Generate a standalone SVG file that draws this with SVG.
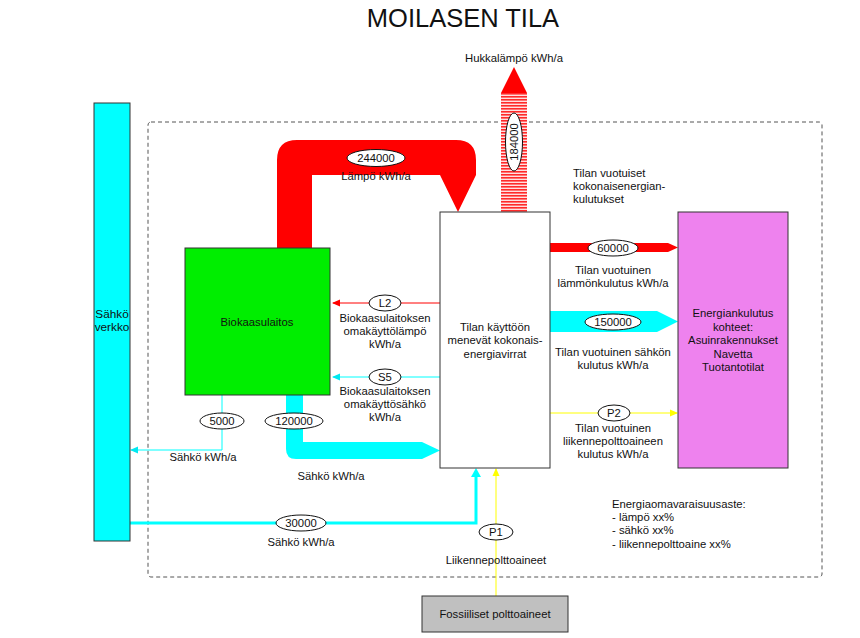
<svg xmlns="http://www.w3.org/2000/svg" width="860" height="638" viewBox="0 0 860 638">
<defs>
<style>
text{font-family:"Liberation Sans",Arial,sans-serif;font-size:11.3px;fill:#111}
.c{text-anchor:middle}
.box{stroke:#333;stroke-width:1}
.lab{fill:#fff;stroke:#111;stroke-width:1}
</style>
<pattern id="stripe" patternUnits="userSpaceOnUse" width="6" height="3">
<rect width="6" height="3" fill="#ffe0e0"/>
<rect width="6" height="1.6" fill="#ff2a2a"/>
</pattern>
<marker id="aR" markerWidth="8" markerHeight="8" refX="7" refY="4" orient="auto" markerUnits="userSpaceOnUse"><path d="M0,0.5 L8,4 L0,7.5 Z" fill="#ff0000"/></marker>
<marker id="aC" markerWidth="8" markerHeight="8" refX="7" refY="4" orient="auto" markerUnits="userSpaceOnUse"><path d="M0,0.5 L8,4 L0,7.5 Z" fill="#00e8f0"/></marker>
<marker id="aY" markerWidth="8" markerHeight="8" refX="7" refY="4" orient="auto" markerUnits="userSpaceOnUse"><path d="M0,0.5 L8,4 L0,7.5 Z" fill="#ffff00"/></marker>
</defs>
<rect width="860" height="638" fill="#fff"/>
<text class="c" x="463" y="27" style="font-size:25.5px">MOILASEN TILA</text>
<rect x="148" y="122" width="674" height="455" rx="3" fill="none" stroke="#555" stroke-width="1" stroke-dasharray="4 3"/>

<g id="connectors">
<path id="heat244000" d="M277,248 L277,160 Q277,140 297,140 L456,140 Q476,140 476,160 L476,175 L458,212 L440,175 L312,175 L312,248 Z" fill="#ff0000"/>
<rect x="501" y="93" width="26" height="119" fill="url(#stripe)"/>
<path d="M501,93 L514,67 L527,93 Z" fill="#ff0000"/>
<path d="M550,243 L668,243 L678,247.5 L668,252 L550,252 Z" fill="#ff0000"/>
<path d="M550,311 L657,311 L678,321.5 L657,332 L550,332 Z" fill="#00ffff"/>
<line x1="550" y1="413" x2="677" y2="413" stroke="#ffff00" stroke-width="1" marker-end="url(#aY)"/>
<line x1="440" y1="303" x2="333" y2="303" stroke="#ff0000" stroke-width="1" marker-end="url(#aR)"/>
<line x1="440" y1="377" x2="333" y2="377" stroke="#00ffff" stroke-width="1" marker-end="url(#aC)"/>
<polyline points="222,395 222,450 131,450" fill="none" stroke="#00ffff" stroke-width="1" marker-end="url(#aC)"/>
<path d="M286,395 L286,449 Q286,459 296,459 L422,459 L440,450.5 L422,442 L303,442 L303,395 Z" fill="#00ffff"/>
<polyline points="130,523 476,523 476,476" fill="none" stroke="#00ffff" stroke-width="3"/>
<path d="M471,477 L476,468 L481,477 Z" fill="#00ffff"/>
<line x1="496" y1="596" x2="496" y2="469" stroke="#ffff00" stroke-width="1" marker-end="url(#aY)"/>

<ellipse class="lab" cx="376" cy="158" rx="29" ry="8.5"/>
<text class="c" x="376" y="162">244000</text>
<ellipse class="lab" cx="514" cy="142" rx="8.5" ry="29"/>
<text class="c" transform="translate(518,142) rotate(-90)">184000</text>
<ellipse class="lab" cx="613" cy="248" rx="25" ry="8"/>
<text class="c" x="613" y="252">60000</text>
<ellipse class="lab" cx="613" cy="322" rx="28" ry="8"/>
<text class="c" x="613" y="326">150000</text>
<ellipse class="lab" cx="614" cy="413" rx="16" ry="8"/>
<text class="c" x="614" y="417">P2</text>
<ellipse class="lab" cx="385" cy="303" rx="16" ry="8"/>
<text class="c" x="385" y="307">L2</text>
<ellipse class="lab" cx="385" cy="377" rx="16" ry="8"/>
<text class="c" x="385" y="381">S5</text>
<ellipse class="lab" cx="222" cy="421" rx="22" ry="8"/>
<text class="c" x="222" y="425">5000</text>
<ellipse class="lab" cx="294" cy="421" rx="29" ry="8"/>
<text class="c" x="294" y="425">120000</text>
<ellipse class="lab" cx="301" cy="523" rx="25" ry="8"/>
<text class="c" x="301" y="527">30000</text>
<ellipse class="lab" cx="496" cy="532" rx="17" ry="8"/>
<text class="c" x="496" y="536">P1</text>

<text class="c" x="376" y="180">Lämpö kWh/a</text>
<text class="c" x="514" y="62">Hukkalämpö kWh/a</text>
<text x="573" y="177">Tilan vuotuiset</text>
<text x="573" y="190">kokonaisenergian-</text>
<text x="573" y="203">kulutukset</text>
<text class="c" x="613" y="274">Tilan vuotuinen</text>
<text class="c" x="613" y="287">lämmönkulutus kWh/a</text>
<text class="c" x="613" y="356">Tilan vuotuinen sähkön</text>
<text class="c" x="613" y="369">kulutus kWh/a</text>
<text class="c" x="613" y="432">Tilan vuotuinen</text>
<text class="c" x="613" y="445">liikennepolttoaineen</text>
<text class="c" x="613" y="458">kulutus kWh/a</text>
<text class="c" x="385" y="322">Biokaasulaitoksen</text>
<text class="c" x="385" y="335">omakäyttölämpö</text>
<text class="c" x="385" y="348">kWh/a</text>
<text class="c" x="385" y="395">Biokaasulaitoksen</text>
<text class="c" x="385" y="408">omakäyttösähkö</text>
<text class="c" x="385" y="421">kWh/a</text>
<text class="c" x="203" y="461">Sähkö kWh/a</text>
<text class="c" x="331" y="480">Sähkö kWh/a</text>
<text class="c" x="301" y="546">Sähkö kWh/a</text>
<text class="c" x="496" y="564">Liikennepolttoaineet</text>
</g>

<g id="sahkoverkko">
<rect class="box" x="94" y="103" width="36" height="438" fill="#00ffff" stroke="#444" stroke-width="1.3"/>
<text class="c" x="112" y="318" style="font-size:11.8px">Sähkö</text>
<text class="c" x="112" y="331" style="font-size:11.8px">verkko</text>
</g>
<g id="biokaasulaitos">
<rect class="box" x="185" y="248" width="145" height="147" fill="#00ee00"/>
<text class="c" x="257" y="326">Biokaasulaitos</text>
</g>
<g id="tila">
<rect class="box" x="440" y="212" width="110" height="256" fill="#fff"/>
<text class="c" x="495" y="331">Tilan käyttöön</text>
<text class="c" x="495" y="344">menevät kokonais-</text>
<text class="c" x="495" y="358">energiavirrat</text>
</g>
<g id="kohteet">
<rect class="box" x="678" y="212" width="110" height="256" fill="#ee82ee"/>
<text class="c" x="733" y="317">Energiankulutus</text>
<text class="c" x="733" y="331">kohteet:</text>
<text class="c" x="733" y="344">Asuinrakennukset</text>
<text class="c" x="733" y="358">Navetta</text>
<text class="c" x="733" y="371">Tuotantotilat</text>
</g>
<g id="fossiiliset">
<rect class="box" x="422" y="596" width="146" height="36" fill="#c0c0c0"/>
<text class="c" x="495" y="618">Fossiiliset polttoaineet</text>
</g>
<g id="omavaraisuus">
<text x="612" y="508">Energiaomavaraisuusaste:</text>
<text x="612" y="521">- lämpö xx%</text>
<text x="612" y="534">- sähkö xx%</text>
<text x="612" y="548">- liikennepolttoaine xx%</text>
</g>
</svg>
